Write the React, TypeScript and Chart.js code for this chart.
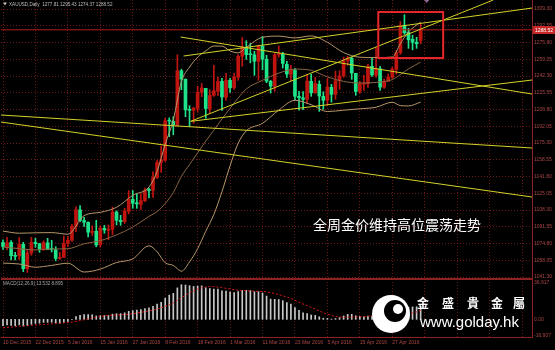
import { useEffect, useRef } from 'react';
import { Chart, registerables } from 'chart.js';

Chart.register(...registerables);

// XAUUSD daily bars, 10 Dec 2015 – 6 May 2016 (index 0 = 10 Dec 2015)
const SYMBOL = 'XAUUSD,Daily';

const OPEN = [1075.8,1071.6,1075.9,1062.8,1062.4,1074.0,1049.6,1065.3,1075.9,1074.6,
1069.0,1075.5,1069.0,1068.5,1059.9,1061.0,1075.0,1078.0,1092.0,1108.5,
1097.8,1096.0,1086.0,1087.0,1073.5,1090.0,1088.0,1089.0,1106.3,1098.0,
1096.6,1107.0,1119.0,1115.0,1114.0,1117.6,1128.0,1128.0,1140.5,1156.0,
1158.0,1197.5,1197.0,1193.5,1247.5,1239.0,1208.5,1208.0,1210.0,1226.0,
1230.0,1209.7,1223.0,1227.0,1237.0,1221.0,1238.0,1230.5,1241.0,1262.0,
1271.0,1264.0,1263.5,1257.0,1272.0,1259.0,1237.0,1232.0,1263.5,1264.0,
1254.0,1244.0,1248.0,1222.0,1220.5,1219.0,1237.0,1225.5,1234.0,1222.0,
1218.0,1231.0,1224.0,1237.6,1242.4,1257.5,1260.0,1245.0,1227.0,1234.0,
1234.5,1252.0,1243.0,1249.6,1231.0,1237.0,1241.0,1249.0,1265.6,1293.0,
1286.0,1279.0,1276.0,1277.81];

const HIGH = [1078.6,1081.1,1077.8,1066.0,1080.8,1076.0,1068.6,1081.0,1080.0,1075.0,
1077.5,1080.0,1078.0,1071.6,1066.0,1082.4,1081.9,1094.0,1111.5,1112.7,
1100.9,1096.5,1092.5,1098.0,1092.4,1093.0,1093.4,1111.3,1107.4,1103.0,
1110.0,1127.7,1127.8,1124.5,1124.6,1130.3,1130.3,1146.4,1158.0,1172.3,
1200.0,1200.5,1201.6,1263.5,1249.0,1239.5,1212.6,1210.8,1232.0,1234.8,
1230.0,1228.5,1253.0,1241.0,1240.0,1245.0,1240.0,1245.0,1263.6,1280.9,
1277.6,1275.0,1267.0,1273.2,1281.8,1263.0,1238.0,1265.0,1272.5,1266.0,
1257.0,1253.0,1250.0,1227.0,1226.8,1244.0,1244.0,1241.0,1237.5,1226.5,
1239.8,1234.0,1247.2,1247.5,1261.3,1262.0,1261.0,1245.0,1237.0,1243.0,
1254.0,1261.0,1270.6,1252.0,1239.2,1244.3,1251.2,1268.0,1296.8,1303.6,
1290.0,1283.0,1281.0,1295.43];

const LOW = [1068.8,1068.4,1058.4,1058.3,1058.8,1046.6,1045.8,1063.0,1071.0,1066.0,
1068.0,1068.5,1066.3,1057.5,1058.9,1060.8,1071.9,1077.0,1086.6,1096.6,
1092.0,1081.5,1082.9,1071.5,1071.2,1085.0,1078.6,1083.6,1093.4,1093.0,
1094.9,1104.4,1110.0,1110.0,1108.8,1116.6,1120.3,1120.9,1140.0,1146.0,
1157.0,1181.6,1183.5,1192.0,1228.5,1201.6,1191.6,1195.0,1206.0,1221.6,
1200.0,1205.0,1222.0,1223.0,1208.0,1218.0,1226.0,1228.9,1238.0,1252.0,
1259.0,1255.5,1243.0,1238.0,1248.5,1235.6,1225.3,1227.0,1261.0,1250.3,
1241.0,1237.7,1218.4,1208.1,1208.6,1215.0,1222.0,1225.0,1206.9,1209.0,
1212.5,1216.2,1219.0,1229.0,1241.0,1253.0,1239.0,1223.0,1225.0,1228.0,
1231.0,1242.0,1241.0,1227.8,1230.0,1237.0,1240.0,1244.0,1264.0,1284.0,
1270.0,1268.5,1270.0,1274.37];

const CLOSE = [1071.7,1075.4,1062.6,1062.0,1074.0,1049.6,1065.3,1075.9,1074.6,1069.0,
1075.8,1069.0,1068.8,1059.9,1060.2,1075.0,1078.1,1091.7,1108.5,1097.8,
1096.1,1086.1,1086.8,1073.3,1090.2,1088.3,1089.1,1106.4,1098.0,1096.6,
1107.4,1119.1,1115.0,1114.4,1117.7,1128.1,1127.8,1140.5,1155.9,1158.5,
1197.5,1197.2,1193.6,1247.5,1239.2,1208.5,1208.0,1210.2,1226.0,1230.4,
1209.7,1222.9,1227.5,1236.8,1221.4,1238.2,1230.5,1241.0,1262.1,1271.1,
1263.7,1263.6,1257.1,1272.4,1259.1,1237.2,1232.2,1263.5,1264.4,1254.9,
1244.3,1248.3,1222.0,1220.5,1219.0,1237.2,1225.5,1234.8,1222.3,1218.0,
1231.4,1224.0,1237.6,1242.4,1257.5,1260.3,1245.3,1226.8,1234.6,1234.5,
1252.3,1243.4,1249.6,1231.2,1236.8,1241.1,1249.2,1265.6,1292.6,1285.5,
1278.5,1276.0,1274.6,1288.52];

// Bollinger Bands (20, 2) sampled along the bars
const BB_IDX = [0,4,8,12,16,20,24,28,32,36,38,40,42,44,46,48,50,52,54,56,58,60,64,68,72,76,80,84,88,92,96,98,100,103];
const BB_UPPER = [1087.2,1085.1,1085.5,1085.7,1084.1,1102.7,1106.0,1111.0,1123.0,1131.3,1146.9,1174.0,1198.5,1236.7,1251.2,1261.2,1267.4,1272.3,1272.2,1267.4,1265.5,1271.1,1281.0,1282.2,1280.4,1282.4,1276.0,1265.7,1261.1,1260.7,1261.3,1274.7,1286.4,1296.2];
const BB_MID = [1071.2,1069.7,1068.3,1069.3,1069.6,1074.5,1077.6,1083.4,1091.2,1101.9,1106.7,1114.8,1125.7,1141.9,1153.8,1165.4,1177.2,1188.1,1199.4,1210.0,1220.3,1229.3,1238.0,1245.2,1249.2,1248.0,1241.4,1236.9,1235.3,1235.9,1238.7,1243.7,1249.4,1256.2];
const BB_LOWER = [1055.2,1054.3,1051.1,1052.9,1055.1,1046.3,1049.2,1055.8,1059.4,1072.5,1066.5,1055.6,1052.9,1047.1,1056.4,1069.6,1087.0,1103.9,1126.6,1152.6,1175.1,1187.5,1195.0,1208.2,1218.0,1213.6,1206.8,1208.1,1209.5,1211.1,1216.1,1212.7,1212.4,1216.2];

// MACD(12,26,9): main histogram and signal
const MACD_MAIN = [-6.5,-5.7,-6.1,-6.3,-5.5,-6.7,-6.3,-5.1,-4.2,-3.9,
-3.1,-3.0,-2.9,-3.5,-3.9,-3.0,-2.0,-0.1,2.7,4.1,
4.9,4.8,4.6,3.4,3.7,3.8,3.9,5.3,5.7,5.8,
6.6,8.1,8.9,9.4,9.9,11.0,11.7,13.2,15.4,17.2,
21.5,24.6,26.4,31.9,35.1,34.8,34.1,33.4,33.7,33.9,
32.0,31.3,30.7,30.6,29.0,28.7,27.6,27.2,28.2,29.4,
29.5,29.2,28.1,28.1,26.7,23.6,20.5,20.3,20.1,18.9,
16.9,15.4,12.0,9.1,6.5,5.9,4.4,4.0,2.6,1.1,
1.0,0.3,0.8,1.6,3.5,5.1,5.1,3.6,3.0,2.5,
3.4,3.4,3.9,2.8,2.3,2.2,2.7,4.4,8.2,11.0,
12.2,12.6,12.8,13.532];

const MACD_SIGNAL = [-8.56,-8.19,-7.81,-7.40,-6.96,-6.70,-6.46,-6.13,-5.82,-5.53,
-5.24,-4.90,-4.52,-4.30,-3.99,-3.62,-3.28,-2.82,-2.09,-1.29,
-0.41,0.44,1.34,2.16,2.90,3.54,3.99,4.28,4.46,4.56,
4.76,5.14,5.76,6.39,7.07,7.86,8.57,9.40,10.47,11.64,
13.13,14.88,16.77,19.21,21.89,24.46,26.78,28.78,30.61,31.99,
32.81,33.36,33.22,32.72,32.08,31.48,30.83,30.11,29.48,29.19,
28.99,28.82,28.54,28.44,28.22,27.78,27.03,26.16,25.12,23.94,
22.58,21.17,19.38,17.42,15.52,13.90,12.13,10.34,8.53,6.78,
5.18,3.88,2.96,2.41,2.14,2.22,2.34,2.46,2.67,2.83,
3.18,3.47,3.72,3.64,3.33,3.01,2.91,3.07,3.70,4.54,
5.52,6.49,7.60,8.895];

// Hand-drawn trend lines: [barIndex, price] end points
const TL_RESIST_RISING = [[44.55, 1262.3], [130.46, 1310.3]];
const TL_SUPPORT_STEEP = [[46.3, 1197.0], [120.9, 1318.3]];
const TL_SUPPORT_RISING = [[46.3, 1197.0], [130.46, 1238.3]];
const TL_FALLING_SHORT = [[43.8, 1281.3], [130.46, 1224.3]];
const TL_FALLING_LONG_A = [[-0.49, 1203.3], [130.46, 1170.3]];
const TL_FALLING_LONG_B = [[-0.49, 1196.3], [130.46, 1121.3]];

// Highlight box around the last week: bar range and price range
const BOX_IDX = [92.55, 108.55];
const BOX_PRICE = [1306.3, 1260.3];

// Axis ticks
const DATE_TICK_IDX = [0, 8, 16, 24, 32, 40, 48, 56, 64, 72, 80, 88, 96, 104, 112, 120, 128];
const DATE_TICK_LABELS = ['10 Dec 2015', '22 Dec 2015', '5 Jan 2016', '15 Jan 2016', '27 Jan 2016', '8 Feb 2016', '18 Feb 2016', '1 Mar 2016', '11 Mar 2016', '23 Mar 2016', '5 Apr 2016', '15 Apr 2016', '27 Apr 2016', '', '', '', ''];
const PRICE_TICKS = [1309.30, 1292.55, 1275.80, 1259.05, 1242.30, 1225.55, 1208.80, 1192.05, 1175.30, 1158.55, 1141.80, 1125.05, 1108.30, 1091.55, 1074.80, 1058.05, 1041.30];
const MACD_TICKS = [36.917, 0, -16.907];

const NOTE = '全周金价维持高位震荡走势';
const BRAND_CHARS = ['金', '盛', '貴', '金', '屬'];
const BRAND_URL = 'www.golday.hk';

const W = 555;
const H = 350;
const AXIS_W = 23;
const DATE_AXIS_H = 13;
const X_MIN = -0.49;
const X_MAX = 130.46;
const PRICE_MIN = 1039.3;
const PRICE_MAX = 1318.3;
const MACD_MIN = -17.9;
const MACD_MAX = 40.9;

const GRID = '#6a1818';
const AXIS = '#8c2222';
const LABEL = '#ad4646';
const BULL = '#c0150f';
const BEAR = '#1ee38a';
const BAND = '#b8976a';
const BAND_MID = '#8a6440';
const TREND = '#d2d22a';
const FONT = '"Liberation Sans", Arial, sans-serif';

export default function App() {
  const ref = useRef<HTMLCanvasElement>(null);

  useEffect(() => {
    document.body.style.margin = '0';
    document.body.style.background = '#000';
    const canvas = ref.current;
    if (!canvas) return;

    const n = CLOSE.length;
    const idx = CLOSE.map((_, i) => i);
    const candleColor = idx.map((i) => (CLOSE[i] >= OPEN[i] ? BULL : BEAR));
    const last = n - 1;

    const trend = (pts: number[][]) => ({
      type: 'line' as const,
      data: pts.map(([x, y]) => ({ x, y })),
      borderColor: TREND,
      borderWidth: 1,
      pointRadius: 0,
      tension: 0,
      yAxisID: 'y',
      order: 0,
    });
    const band = (vals: number[], color: string) => ({
      type: 'line' as const,
      data: BB_IDX.map((x, k) => ({ x, y: vals[k] })),
      borderColor: color,
      borderWidth: 1,
      pointRadius: 0,
      cubicInterpolationMode: 'monotone' as const,
      yAxisID: 'y',
      order: 2,
    });

    const decor = {
      id: 'terminalDecor',
      afterDatasetsDraw(chart: any) {
        const { ctx, chartArea, scales } = chart;
        const xs = scales.x;
        const ys = scales.y;
        const ys2 = scales.y2;
        ctx.save();

        // pane separator
        ctx.fillStyle = AXIS;
        ctx.fillRect(chartArea.left, ys2.top - 1, chartArea.right - chartArea.left, 2);

        // highlight box
        const bx0 = xs.getPixelForValue(BOX_IDX[0]);
        const bx1 = xs.getPixelForValue(BOX_IDX[1]);
        const by0 = ys.getPixelForValue(BOX_PRICE[0]);
        const by1 = ys.getPixelForValue(BOX_PRICE[1]);
        ctx.strokeStyle = '#e8262a';
        ctx.lineWidth = 2;
        ctx.strokeRect(bx0, by0, bx1 - bx0, by1 - by0);

        // current price tag
        const py = Math.round(ys.getPixelForValue(CLOSE[last]));
        ctx.fillStyle = '#c62828';
        ctx.fillRect(chartArea.right + 1, py - 4, W - chartArea.right - 1, 8);
        ctx.fillStyle = '#ffffff';
        ctx.font = `5px ${FONT}`;
        ctx.textBaseline = 'middle';
        ctx.textAlign = 'left';
        ctx.fillText(CLOSE[last].toFixed(2), chartArea.right + 3, py + 0.5);

        // chart shift marker
        const sx = xs.getPixelForValue(n + 0.5);
        ctx.fillStyle = '#8a6a9a';
        ctx.beginPath();
        ctx.moveTo(sx - 2.5, 0);
        ctx.lineTo(sx + 2.5, 0);
        ctx.lineTo(sx, 3);
        ctx.closePath();
        ctx.fill();

        // symbol header
        ctx.fillStyle = '#bdbdbd';
        ctx.beginPath();
        ctx.moveTo(3, 2.5);
        ctx.lineTo(7, 2.5);
        ctx.lineTo(5, 5.5);
        ctx.closePath();
        ctx.fill();
        ctx.font = `4.6px ${FONT}`;
        ctx.textBaseline = 'middle';
        ctx.fillText(
          `${SYMBOL}  ${OPEN[last].toFixed(2)} ${HIGH[last].toFixed(2)} ${LOW[last].toFixed(2)} ${CLOSE[last].toFixed(2)}`,
          9, 4.5
        );

        // indicator header
        ctx.fillStyle = '#a8a8a8';
        ctx.fillText(
          `MACD(12,26,9) ${MACD_MAIN[last].toFixed(3)} ${MACD_SIGNAL[last].toFixed(3)}`,
          3, ys2.top + 4.5
        );

        // weekly note
        ctx.fillStyle = '#ffffff';
        ctx.font = '14px "Noto Sans CJK SC", sans-serif';
        ctx.textBaseline = 'middle';
        ctx.fillText(NOTE, 313, 225);

        // brand mark
        const cx = 391;
        const cy = 314;
        ctx.fillStyle = '#ffffff';
        ctx.beginPath();
        ctx.arc(cx, cy, 19, 0, Math.PI * 2);
        ctx.fill();
        ctx.fillStyle = '#000000';
        ctx.beginPath();
        ctx.arc(cx + 4, cy - 3, 11, 0, Math.PI * 2);
        ctx.fill();
        ctx.fillStyle = '#ffffff';
        ctx.beginPath();
        ctx.arc(cx + 7, cy - 5, 5, 0, Math.PI * 2);
        ctx.fill();

        ctx.font = 'bold 12px "Noto Sans CJK TC", sans-serif';
        ctx.textAlign = 'center';
        const charX = [423, 448, 473, 497, 519];
        BRAND_CHARS.forEach((c, k) => ctx.fillText(c, charX[k], 303));
        ctx.textAlign = 'left';
        ctx.textBaseline = 'alphabetic';
        ctx.font = `15px ${FONT}`;
        ctx.fillText(BRAND_URL, 420, 327);

        ctx.restore();
      },
    };

    // y-axis label font with a tiny line height so the labels add no padding above the panes
    const yTickFont = { family: FONT, size: 5, lineHeight: 0.01 };
    const xTickFont = { family: FONT, size: 5 };

    const chart = new Chart(canvas, {
      type: 'bar',
      data: {
        datasets: [
          trend(TL_RESIST_RISING),
          trend(TL_SUPPORT_STEEP),
          trend(TL_SUPPORT_RISING),
          trend(TL_FALLING_SHORT),
          trend(TL_FALLING_LONG_A),
          trend(TL_FALLING_LONG_B),
          {
            type: 'line',
            data: [{ x: X_MIN, y: CLOSE[last] }, { x: X_MAX, y: CLOSE[last] }],
            borderColor: '#b31b1b',
            borderWidth: 1,
            pointRadius: 0,
            yAxisID: 'y',
            order: 1,
          },
          {
            type: 'line',
            data: idx.map((i) => ({ x: i, y: MACD_SIGNAL[i] })),
            borderColor: '#e01818',
            borderWidth: 1,
            borderDash: [2, 2],
            pointRadius: 0,
            yAxisID: 'y2',
            order: 1,
          },
          band(BB_UPPER, BAND),
          band(BB_MID, BAND_MID),
          band(BB_LOWER, BAND),
          {
            type: 'bar',
            data: idx.map((i) => ({ x: i, y: [OPEN[i], CLOSE[i]] })),
            backgroundColor: candleColor,
            barThickness: 3,
            minBarLength: 1,
            grouped: false,
            yAxisID: 'y',
            order: 3,
          },
          {
            type: 'bar',
            data: idx.map((i) => ({ x: i, y: [LOW[i], HIGH[i]] })),
            backgroundColor: candleColor,
            barThickness: 1,
            grouped: false,
            yAxisID: 'y',
            order: 4,
          },
          {
            type: 'bar',
            data: idx.map((i) => ({ x: i, y: MACD_MAIN[i] })),
            backgroundColor: '#c8c8c8',
            barThickness: 1,
            grouped: false,
            yAxisID: 'y2',
            order: 6,
          },
        ] as any,
      },
      options: {
        responsive: false,
        animation: false,
        devicePixelRatio: 1,
        events: [],
        layout: { padding: 0 },
        plugins: { legend: { display: false }, tooltip: { enabled: false } },
        scales: {
          x: {
            type: 'linear',
            min: X_MIN,
            max: X_MAX,
            offset: false,
            afterBuildTicks: (s: any) => {
              s.ticks = DATE_TICK_IDX.map((v) => ({ value: v }));
            },
            afterFit: (s: any) => {
              s.height = DATE_AXIS_H;
            },
            grid: { color: GRID, lineWidth: 1, drawTicks: false, offset: false },
            border: { display: true, color: AXIS, width: 1, dash: [1, 2] },
            ticks: {
              autoSkip: false,
              maxRotation: 0,
              minRotation: 0,
              align: 'start',
              labelOffset: 0,
              padding: 3,
              color: LABEL,
              font: xTickFont,
              callback: (v: any) => {
                const k = DATE_TICK_IDX.indexOf(Number(v));
                return k >= 0 ? DATE_TICK_LABELS[k] : '';
              },
            },
          },
          y: {
            type: 'linear',
            position: 'right',
            stack: 'panes',
            stackWeight: 279,
            min: PRICE_MIN,
            max: PRICE_MAX,
            offset: false,
            afterBuildTicks: (s: any) => {
              s.ticks = PRICE_TICKS.map((v) => ({ value: v }));
            },
            afterFit: (s: any) => {
              s.width = AXIS_W;
            },
            grid: { color: GRID, lineWidth: 1, drawTicks: true, tickLength: 2, tickColor: 'rgba(0,0,0,0)' },
            border: { display: true, color: AXIS, width: 1, dash: [1, 2] },
            ticks: {
              autoSkip: false,
              padding: 0,
              color: LABEL,
              font: yTickFont,
              callback: (v: any) => Number(v).toFixed(2),
            },
          },
          y2: {
            type: 'linear',
            position: 'right',
            stack: 'panes',
            stackWeight: 58,
            min: MACD_MIN,
            max: MACD_MAX,
            offset: false,
            afterBuildTicks: (s: any) => {
              s.ticks = MACD_TICKS.map((v) => ({ value: v }));
            },
            afterFit: (s: any) => {
              s.width = AXIS_W;
            },
            grid: { display: false, drawTicks: true, tickLength: 2, tickColor: 'rgba(0,0,0,0)' },
            border: { display: true, color: AXIS, width: 1 },
            ticks: {
              autoSkip: false,
              padding: 0,
              color: LABEL,
              font: yTickFont,
              callback: (v: any) => (Number(v) === 0 ? '0.00' : Number(v).toFixed(3)),
            },
          },
        } as any,
      },
      plugins: [decor],
    });

    return () => chart.destroy();
  }, []);

  return (
    <div style={{ position: 'fixed', left: 0, top: 0, width: W, height: H, background: '#000' }}>
      <canvas ref={ref} width={W} height={H} style={{ display: 'block', width: W, height: H }} />
    </div>
  );
}
